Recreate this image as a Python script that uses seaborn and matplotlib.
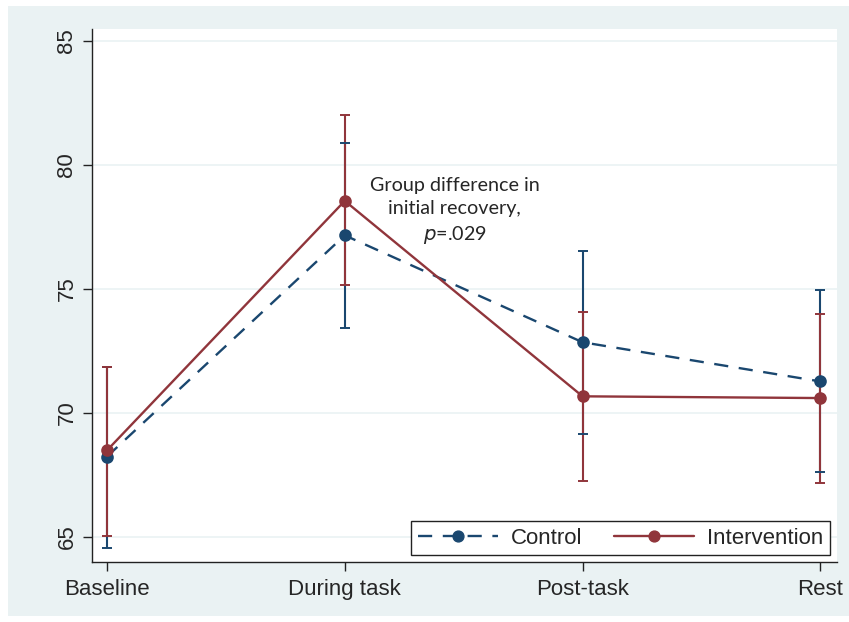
import numpy as np
import pandas as pd
import matplotlib
matplotlib.use("Agg")
import matplotlib.pyplot as plt
from matplotlib.patches import Rectangle
from matplotlib.lines import Line2D
import seaborn as sns

# Estimated means and 95% CIs
phases = ['Baseline', 'During task', 'Post-task', 'Rest']
control_mean = [68.24, 77.16, 72.85, 71.27]
control_lo = [64.56, 73.43, 69.16, 67.60]
control_hi = [71.85, 80.90, 76.53, 74.95]
interv_mean = [68.49, 78.55, 70.67, 70.60]
interv_lo = [65.05, 75.15, 67.26, 67.17]
interv_hi = [71.87, 82.00, 74.06, 74.00]

blue = '#1a476f'
red = '#90353b'
bg = '#eaf2f3'

df = pd.DataFrame({
    'phase': phases * 2,
    'value': control_mean + interv_mean,
    'group': ['Control'] * 4 + ['Intervention'] * 4,
})

sns.set_style('white')
plt.rcParams['font.family'] = ['Liberation Sans', 'DejaVu Sans']

fig = plt.figure(figsize=(8.49, 6.22), dpi=100, facecolor='white')
fig.patches.append(Rectangle((8 / 849, 6 / 622), 1 - 8 / 849, 610 / 622,
                             transform=fig.transFigure, facecolor=bg,
                             edgecolor='none', zorder=-10))
ax = fig.add_axes([92 / 849, 60 / 622, 745 / 849, 533 / 622])
ax.set_facecolor('white')

x = np.arange(len(phases))
ekw = dict(fmt='none', capsize=3.4, capthick=1.4, elinewidth=1.5, zorder=2)
ax.errorbar(x, control_mean,
            yerr=[np.subtract(control_mean, control_lo), np.subtract(control_hi, control_mean)],
            ecolor=blue, **ekw)
ax.errorbar(x, interv_mean,
            yerr=[np.subtract(interv_mean, interv_lo), np.subtract(interv_hi, interv_mean)],
            ecolor=red, **ekw)

sns.pointplot(data=df, x='phase', y='value', hue='group', order=phases,
              palette=[blue, red], markers='o', linestyles=['--', '-'],
              errorbar=None, markersize=7.8, linewidth=1.7, ax=ax, legend=False)
for ln in ax.lines:
    if ln.get_linestyle() == '--':
        ln.set_dashes((6, 4.5))
    ln.set_zorder(3)

ax.set_xlim(-0.063, 3.07)
ax.set_ylim(63.99, 85.48)
ax.set_yticks([65, 70, 75, 80, 85])
ax.grid(axis='y', color=bg, linewidth=1.2)
ax.set_axisbelow(True)
ax.set_xlabel('')
ax.set_ylabel('')

for s in ['top', 'right']:
    ax.spines[s].set_visible(False)
for s in ['left', 'bottom']:
    ax.spines[s].set_color('#222222')
    ax.spines[s].set_linewidth(1.0)

ax.tick_params(axis='both', which='major', direction='out', length=6.5,
               width=1.0, color='#222222', labelsize=16, left=True, bottom=True)
ax.tick_params(axis='y', pad=4)
ax.tick_params(axis='x', pad=6)
plt.setp(ax.get_yticklabels(), rotation=90, va='center')

ax.text(1.462, 78.13, 'Group difference in\ninitial recovery,\n$\\it{p}$=.029',
        ha='center', va='center', fontsize=14.2, family='Lato', linespacing=1.42)

handles = [
    Line2D([], [], color=blue, linestyle=(0, (6, 4.5)), linewidth=1.7,
           marker='o', markersize=7.8),
    Line2D([], [], color=red, linestyle='-', linewidth=1.7,
           marker='o', markersize=7.8),
]
leg = ax.legend(handles, ['Control', 'Intervention'], ncol=2,
                loc='lower right', bbox_to_anchor=(0.9906, 0.0126),
                borderaxespad=0, fontsize=16, handlelength=3.6,
                handletextpad=0.6, columnspacing=1.4, fancybox=False,
                frameon=True, edgecolor='#222222', framealpha=1,
                borderpad=0.3)
leg.get_frame().set_linewidth(1.0)

fig.savefig('out.png', dpi=100, facecolor='white')
